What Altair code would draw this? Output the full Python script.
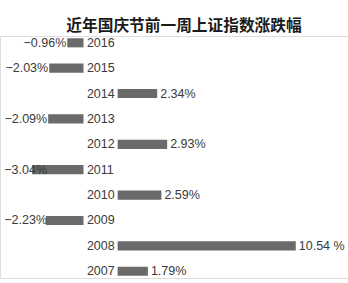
import altair as alt
import pandas as pd

years = ["2016", "2015", "2014", "2013", "2012", "2011", "2010", "2009", "2008", "2007"]
changes = [-0.96, -2.03, 2.34, -2.09, 2.93, -3.04, 2.59, -2.23, 10.54, 1.79]
labels = ["−0.96%", "−2.03%", "2.34%", "−2.09%", "2.93%", "−3.04%", "2.59%", "−2.23%", "10.54 %", "1.79%"]
title_text = "近年国庆节前一周上证指数涨跌幅"

GAP = 2.02      # gap (in % units) between negative and positive bars, room for year labels
PX = 16.9       # pixels per 1 %
ZERO_PX = 83.5  # where the negative bars end

df = pd.DataFrame({"year": years, "change": changes, "label": labels})

base = alt.Chart(df).transform_calculate(
    start=f"datum.change < 0 ? datum.change : {GAP}",
    end=f"datum.change < 0 ? 0 : {GAP} + datum.change",
    lx=f"datum.change < 0 ? max(datum.change, -2.1) : {GAP} + datum.change",
    yx="0.2",
)

xscale = alt.Scale(domain=[-ZERO_PX / PX, (348 - ZERO_PX) / PX], nice=False, zero=False)
yenc = alt.Y("year:N", sort=years, scale=alt.Scale(paddingInner=0.64, paddingOuter=0.088), axis=None)

bars = base.mark_bar(color="#6a6a6a").encode(
    x=alt.X("start:Q", scale=xscale, axis=None),
    x2="end:Q",
    y=yenc,
)

txt = dict(fontSize=12.5, font="Liberation Sans", color="#3a3a3a")

neg = base.transform_filter("datum.change < 0").mark_text(align="right", dx=-1, **txt).encode(
    x=alt.X("lx:Q", scale=xscale, axis=None), y=yenc, text="label:N"
)
pos = base.transform_filter("datum.change >= 0").mark_text(align="left", dx=3, **txt).encode(
    x=alt.X("lx:Q", scale=xscale, axis=None), y=yenc, text="label:N"
)
yrs = base.mark_text(align="left", **txt).encode(
    x=alt.X("yx:Q", scale=xscale, axis=None), y=yenc, text="year:N"
)

chart = alt.layer(bars, neg, pos, yrs).properties(
    width=348,
    height=242,
    padding={"left": 0, "top": 36, "right": 0, "bottom": 5},
    autosize=alt.AutoSizeParams(type="none"),
    title=alt.TitleParams(
        text=title_text, font="Noto Sans CJK SC", fontSize=15.7, fontWeight="bold",
        color="#1a1a1a", anchor="middle", dx=10, dy=3,
    ),
).configure_view(stroke=None).configure(background="white")

chart.save("out.html", embed_options={"renderer": "svg", "actions": False})
